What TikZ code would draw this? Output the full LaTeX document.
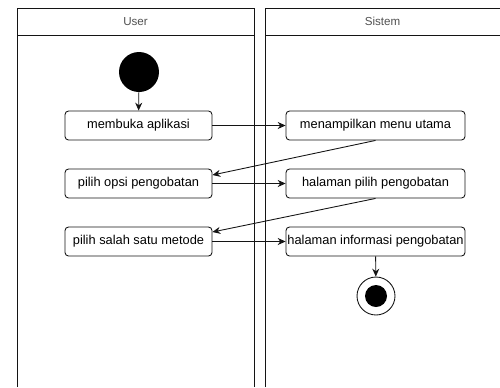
\documentclass[tikz,border=0pt]{standalone}
\usepackage{fontspec}
\setmainfont{Liberation Sans}
\usepackage{xcolor}
\definecolor{Col1}{RGB}{20,20,20}
\definecolor{Col2}{RGB}{80,80,80}
\usepackage{tikz}
\usetikzlibrary{shapes}
\usetikzlibrary{arrows.meta}
\tikzstyle{Lane}=[draw=Col1,line width=.55pt]
\tikzstyle{LaneST}=[font=\fontsize{6.6}{8}\selectfont,text=Col2]
\tikzstyle{Act}=[rectangle,rounded corners=2pt,draw=Col1,line width=.5pt,
minimum height=.58cm,inner xsep=0pt,inner ysep=1pt,font=\fontsize{7.3}{9}\selectfont]
\tikzstyle{ActL}=[Act,minimum width=2.94cm]
\tikzstyle{ActR}=[Act,minimum width=3.58cm]
\tikzstyle{Start}=[circle,fill=black,minimum size=.8cm,inner sep=0pt]
\tikzstyle{Stop}=[circle,draw=Col1,line width=.5pt,minimum size=.76cm,inner sep=0pt]
\tikzstyle{Edge}=[draw=Col1,line width=.5pt,-{Stealth[length=4.5pt,width=4pt]}]

\begin{document}
\begin{tikzpicture}[x=.02cm,y=-.02cm]
        \useasboundingbox(0,0)rectangle(500,387);
        % lanes
        \draw[Lane](17,387)--(17,8)--(254,8)--(254,387);
        \draw[Lane](17,35)--(254,35);
        \draw[Lane](265,387)--(265,8)--(500,8);
        \draw[Lane](265,35)--(500,35);
        \node[LaneST](user)at(135.5,21.5){User};
        \node[LaneST](sistem)at(382.5,21.5){Sistem};
        % activities
        \node[Start](s)at(139,72){};
        \node[ActL](buka)at(138.5,125.5){membuka aplikasi};
        \node[ActL](opsi)at(138.5,183.5){pilih opsi pengobatan};
        \node[ActL](metode)at(138.5,241.5){pilih salah satu metode};
        \node[ActR](menu)at(375.5,125.5){menampilkan menu utama};
        \node[ActR](hpilih)at(375.5,183.5){halaman pilih pengobatan};
        \node[ActR](hinfo)at(375.5,241.5){halaman informasi pengobatan};
        \node[Stop](e)at(376,296){};
        \node[circle,fill=black,minimum size=.44cm,inner sep=0pt](ei)at(e){};
        \draw[Edge](s)--(buka);
        \draw[Edge](buka)--(menu);
        \draw[Edge](menu.south)--([yshift=.17cm]opsi.east);
        \draw[Edge](opsi)--(hpilih);
        \draw[Edge](hpilih.south)--([yshift=.19cm]metode.east);
        \draw[Edge](metode)--(hinfo);
        \draw[Edge](hinfo)--(e);
    \end{tikzpicture}
\end{document}
